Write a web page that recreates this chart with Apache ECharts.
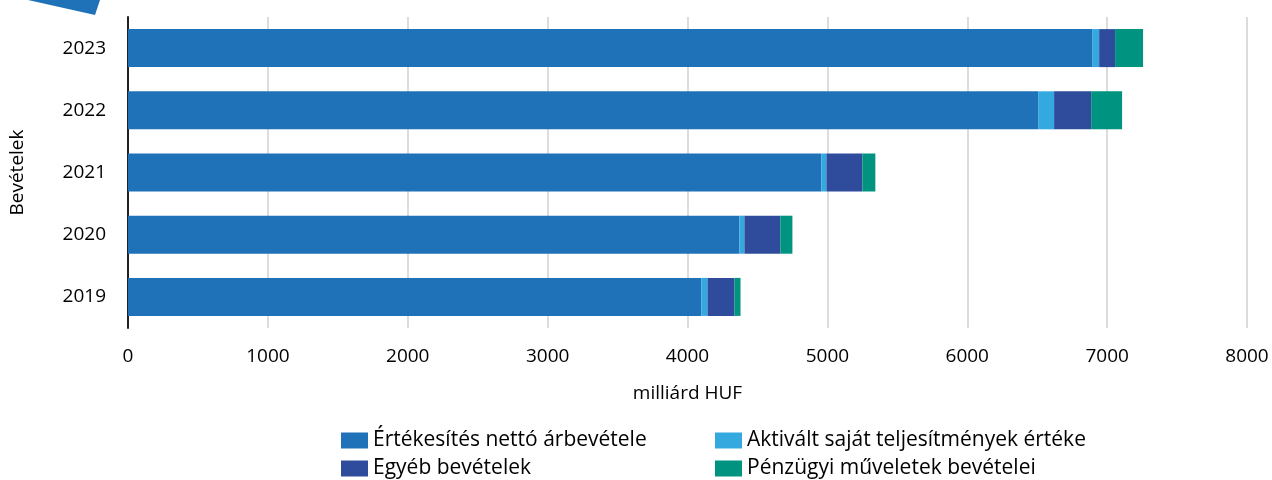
<!DOCTYPE html>
<html>
<head>
<meta charset="utf-8">
<script src="https://cdn.jsdelivr.net/npm/echarts@6/dist/echarts.min.js"></script>
<style>
  html, body { margin: 0; padding: 0; background: #fff; }
  #chart { width: 1272px; height: 480px; }
</style>
</head>
<body>
<div id="chart"></div>
<script>
  // évek (alulról felfelé)
  var years = ['2019', '2020', '2021', '2022', '2023'];
  var xTicks = [0, 1000, 2000, 3000, 4000, 5000, 6000, 7000, 8000];

  // milliárd HUF
  var netRevenue = [4100, 4371, 4957, 6507, 6893];
  var capitalised = [43, 36, 36, 114, 50];
  var otherIncome = [193, 257, 257, 265, 114];
  var financialIncome = [43, 86, 93, 221, 200];

  var seriesNames = [
    'Értékesítés nettó árbevétele',
    'Aktivált saját teljesítmények értéke',
    'Egyéb bevételek',
    'Pénzügyi műveletek bevételei'
  ];
  var colors = ['#1f72b8', '#33a9e0', '#2e4c9b', '#00937f'];
  var values = [netRevenue, capitalised, otherIncome, financialIncome];

  var font = '"Open Sans", sans-serif';
  var chart = echarts.init(document.getElementById('chart'));

  var series = seriesNames.map(function (name, i) {
    return {
      name: name,
      type: 'bar',
      stack: 'total',
      barWidth: 38,
      itemStyle: { color: colors[i] },
      data: values[i]
    };
  });

  // egy legenda elemenként, hogy a két oszlop egymás alá kerüljön
  var legendPos = [[341, 430], [715, 430], [341, 458], [715, 458]];
  var legends = seriesNames.map(function (name, i) {
    return {
      data: [name],
      left: legendPos[i][0],
      top: legendPos[i][1],
      icon: 'rect',
      itemWidth: 27,
      itemHeight: 16,
      itemGap: 0,
      padding: 0,
      selectedMode: false,
      textStyle: { fontFamily: font, fontSize: 21, color: '#000', padding: [0, 0, 0, 0] }
    };
  });

  chart.setOption({
    animation: false,
    color: colors,
    grid: { left: 127, right: 25, top: 17, bottom: 152, containLabel: false },
    legend: legends,
    xAxis: {
      type: 'value',
      min: 0,
      max: 8000,
      interval: 1000,
      name: 'milliárd HUF',
      nameLocation: 'middle',
      nameGap: 56,
      nameTextStyle: { fontFamily: font, fontSize: 19, color: '#000' },
      axisLine: { show: false },
      axisTick: { show: false },
      axisLabel: {
        fontFamily: font, fontSize: 19, color: '#000', margin: 19,
        formatter: function (v) { return xTicks.indexOf(v) >= 0 ? String(v) : ''; }
      },
      splitLine: { show: true, lineStyle: { color: '#dcdcdc', width: 2 } }
    },
    yAxis: {
      type: 'category',
      data: years,
      name: 'Bevételek',
      nameLocation: 'middle',
      nameGap: 101,
      nameRotate: 90,
      nameTextStyle: { fontFamily: font, fontSize: 19, color: '#000' },
      axisLine: { show: true, lineStyle: { color: '#231f20', width: 2 } },
      axisTick: { show: false },
      axisLabel: { fontFamily: font, fontSize: 19, color: '#000', margin: 22 }
    },
    graphic: [{
      type: 'polygon',
      shape: { points: [[28, 0], [100, 0], [95, 15]] },
      style: { fill: '#1f72b8' }
    }],
    series: series
  });
</script>
</body>
</html>
